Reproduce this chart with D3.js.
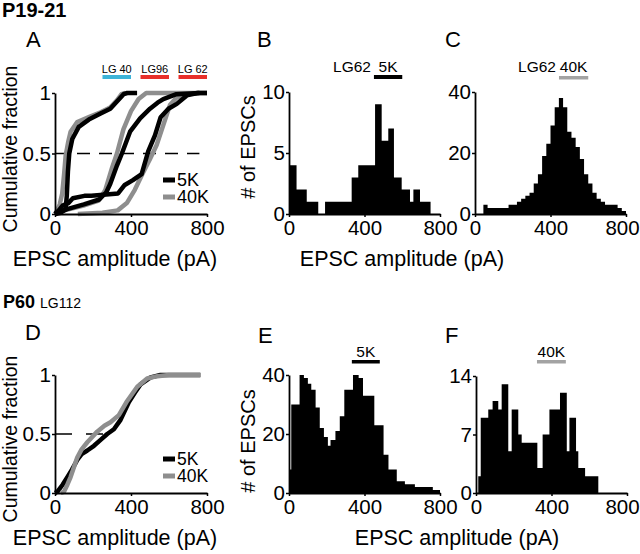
<!DOCTYPE html>
<html><head><meta charset="utf-8">
<script src="https://cdn.jsdelivr.net/npm/d3@7"></script>
<style>
body{margin:0;background:#fff}
svg text{font-family:"Liberation Sans",Arial,sans-serif;fill:#000}
</style>
</head><body>
<svg id="c" width="640" height="554"></svg>
<script>
// ---------- DATA ----------
const xTicks = [0, 400, 800];
const cumTicks = [0, 0.5, 1];
const cumTickLabels = ["0", "0.5", "1"];
const bTicks = [0, 5, 10];
const cTicks = [0, 20, 40];
const eTicks = [0, 20, 40];
const fTicks = [0, 7, 14];
const seriesNames = ["5K", "40K"];
const lgNames = ["LG 40", "LG96", "LG 62"];
const lgRanges = [[250, 400], [450, 600], [650, 800]];
const lgColors = ["#3db4d8", "#e8302a", "#e8302a"];

// Panel A cumulative curves [amplitude pA, fraction]
const aLG40_5K = [[0,0],[30,0.01],[56,0.04],[62,0.15],[68,0.35],[75,0.5],[91,0.62],[125,0.72],[178,0.78],[240,0.83],[291,0.87],[326,0.93],[361,0.99],[380,1],[432,1]];
const aLG40_40K = [[0,0],[12,0.03],[25,0.08],[38,0.17],[48,0.33],[56,0.48],[70,0.6],[82,0.68],[117,0.76],[178,0.8],[240,0.84],[290,0.88],[326,0.94],[350,0.99],[370,1]];
const aLG96_5K = [[0,0],[64,0.04],[152,0.08],[233,0.12],[270,0.18],[291,0.25],[326,0.4],[352,0.5],[395,0.68],[448,0.79],[500,0.87],[540,0.92],[570,0.95],[639,0.99],[760,1]];
const aLG96_40K = [[0,0],[50,0.03],[150,0.07],[230,0.11],[265,0.2],[300,0.38],[326,0.5],[360,0.7],[400,0.85],[440,0.95],[480,1],[800,1]];
const aLG62_5K = [[0,0],[20,0.03],[40,0.07],[70,0.09],[94,0.13],[155,0.15],[191,0.15],[332,0.17],[367,0.24],[410,0.28],[456,0.33],[491,0.52],[526,0.65],[556,0.8],[597,0.87],[641,0.91],[694,0.98],[750,1],[800,1]];
const aLG62_40K = [[120,0],[250,0.01],[330,0.03],[378,0.09],[420,0.2],[460,0.33],[500,0.455],[535,0.57],[570,0.735],[605,0.9],[639,0.96],[692,0.99],[760,1],[800,1]];

// Panel D cumulative curves
const dLG112_5K = [[0,0],[12,0.01],[40,0.07],[65,0.135],[90,0.2],[117,0.28],[140,0.33],[170,0.36],[205,0.4],[240,0.45],[275,0.5],[310,0.54],[345,0.62],[389,0.77],[420,0.85],[450,0.92],[503,0.98],[555,1],[765,1]];
const dLG112_40K = [[30,0],[47,0.01],[65,0.07],[82,0.135],[100,0.22],[117,0.3],[140,0.37],[170,0.43],[222,0.52],[260,0.57],[292,0.6],[336,0.66],[380,0.78],[433,0.9],[485,0.97],[538,0.99],[600,1],[765,1]];

// Panel B histogram (LG62 5K): bin edges (pA) and counts
const bEdges = [0,40,94,155,191,332,367,456,491,526,556,597,641,659,694,750];
const bCounts = [4,2,1,0,1,3,4,9,6,7,3,2,1,2,1];
// Panel C histogram (LG62 40K): 36 bins of 800/36 pA
const cEdges = d3.range(0, 37).map(i => i * 800 / 36);
const cCounts = [0,0,3,2,2,2,2,2,3,3,4,5,6,7,10,13,19,23,29,35,38,35,27,25,22,18,13,10,7,5,4,3,3,3,2,1];
// Panel E histogram (P60 5K)
const eEdges = [0,12,56,79,100,118,141,163,185,206,220,246,269,293,339,369,392,452,501,527,571,614,667,762,800];
const eCounts = [8,30,40,39,37,35,29,22,19,16,18,21,26,35,40,39,33,23,13,8,4,3,2,1];
// Panel F histogram (P60 40K)
const fEdges = [12,25,65,88,118,136,171,189,224,242,325,353,389,413,445,481,495,530,542,578,618,648];
const fCounts = [2,9,10,11,10,13,5,10,7,6,3,7,10,10,12,5,9,5,3,2,2];

// ---------- DRAWING ----------
const svg = d3.select("#c");
const BLACK = "#000", GRAY = "#8e8e8e", BARGRAY = "#a3a3a3";
const FONT = 20.5;

function makePanel(o) {
  const x = d3.scaleLinear().domain([0, 800]).range([o.x0, o.x1]);
  const y = d3.scaleLinear().domain([0, o.yMax]).range([o.y0, o.y1]);
  const g = svg.append("g");
  const body = g.append("g");
  const xa = g.append("g").attr("transform", `translate(0,${o.y0})`)
    .call(d3.axisBottom(x).tickValues(xTicks).tickSize(3).tickSizeOuter(0).tickPadding(3).tickFormat(d3.format("d")));
  const ya = g.append("g").attr("transform", `translate(${o.x0},0)`)
    .call(d3.axisLeft(y).tickValues(o.yTicks).tickSize(3).tickSizeOuter(0).tickPadding(1)
      .tickFormat((d, i) => o.yLabels ? o.yLabels[i] : d3.format("d")(d)));
  [xa, ya].forEach(a => {
    a.attr("font-family", null).attr("font-size", null);
    a.selectAll("path.domain").attr("stroke", "#000").attr("stroke-width", 1.8);
    a.selectAll(".tick line").attr("stroke", "#000").attr("stroke-width", 1.5);
    a.selectAll(".tick text").style("font-size", FONT + "px");
  });
  if (o.lastShift) xa.selectAll(".tick text").filter(d => d === 800).attr("dx", o.lastShift);
  return {x, y, g: body};
}

function drawHist(p, edges, counts) {
  const pts = counts.map((c, i) => [edges[i], c]);
  pts.push([edges[edges.length - 1], counts[counts.length - 1]]);
  p.g.append("path").datum(pts)
    .attr("d", d3.area().curve(d3.curveStepAfter)
      .x(d => p.x(d[0])).y0(p.y(0)).y1(d => p.y(d[1])))
    .attr("fill", BLACK);
}

function drawCurve(p, pts, color) {
  p.g.append("path").datum(pts)
    .attr("d", d3.line().x(d => p.x(d[0])).y(d => p.y(d[1])))
    .attr("fill", "none").attr("stroke", color).attr("stroke-width", 4.5)
    .attr("stroke-linejoin", "round").attr("stroke-linecap", "butt");
}

function dashed(p, xEnd, dash) {
  p.g.append("line").attr("x1", p.x(0)).attr("x2", p.x(xEnd))
    .attr("y1", p.y(0.5)).attr("y2", p.y(0.5))
    .attr("stroke", "#000").attr("stroke-width", 1.6).attr("stroke-dasharray", dash);
}

function legend(px, py, gap, fs) {
  seriesNames.forEach((n, i) => {
    svg.append("line").attr("x1", px).attr("x2", px + 12).attr("y1", py + i * gap).attr("y2", py + i * gap)
      .attr("stroke", i === 0 ? BLACK : GRAY).attr("stroke-width", 5);
    svg.append("text").attr("x", px + 14).attr("y", py + i * gap + fs * 0.36).style("font-size", fs + "px").text(n);
  });
}

function text(x, y, s, fs, opts = {}) {
  const t = svg.append("text").attr("x", x).attr("y", y).style("font-size", fs + "px").text(s);
  if (opts.anchor) t.attr("text-anchor", opts.anchor);
  if (opts.bold) t.style("font-weight", "bold");
  if (opts.rotate) t.attr("transform", `rotate(-90,${x},${y})`);
  return t;
}

// Panel A
const pA = makePanel({x0: 55, x1: 207, y0: 214, y1: 93, yMax: 1, yTicks: cumTicks, yLabels: cumTickLabels});
dashed(pA, 760, "13,9");
[aLG40_40K, aLG96_40K, aLG62_40K].forEach(s => drawCurve(pA, s, GRAY));
[aLG40_5K, aLG96_5K, aLG62_5K].forEach(s => drawCurve(pA, s, BLACK));
legend(163, 180, 17, 18);
lgNames.forEach((n, i) => {
  const xa = pA.x(lgRanges[i][0]), xb = pA.x(lgRanges[i][1]);
  svg.append("rect").attr("x", xa).attr("y", 75).attr("width", xb - xa).attr("height", 4).attr("fill", lgColors[i]);
  text((xa + xb) / 2, 73, n, 11, {anchor: "middle"});
});

// Panel B
const pB = makePanel({x0: 289, x1: 440, y0: 214, y1: 92, yMax: 10, yTicks: bTicks});
drawHist(pB, bEdges, bCounts);
{
  const xa = pB.x(450), xb = pB.x(600);
  svg.append("rect").attr("x", xa).attr("y", 75).attr("width", xb - xa).attr("height", 4).attr("fill", BLACK);
  text((xa + xb) / 2, 72, "5K", 15.5, {anchor: "middle"});
  text(xa - 3, 72, "LG62", 15.5, {anchor: "end"});
}

// Panel C
const pC = makePanel({x0: 475, x1: 626, y0: 214, y1: 92, yMax: 40, yTicks: cTicks, lastShift: -4});
drawHist(pC, cEdges, cCounts);
{
  const xa = pC.x(445), xb = pC.x(600);
  svg.append("rect").attr("x", xa).attr("y", 76).attr("width", xb - xa).attr("height", 3.5).attr("fill", BARGRAY);
  text((xa + xb) / 2, 72, "40K", 15.5, {anchor: "middle"});
  text(xa - 3, 72, "LG62", 15.5, {anchor: "end"});
}

// Panel D
const pD = makePanel({x0: 55, x1: 207, y0: 493, y1: 375, yMax: 1, yTicks: cumTicks, yLabels: cumTickLabels});
dashed(pD, 260, "17,14");
drawCurve(pD, dLG112_5K, BLACK);
drawCurve(pD, dLG112_40K, GRAY);
legend(163, 459, 17, 17.5);

// Panel E
const pE = makePanel({x0: 289, x1: 440, y0: 493, y1: 375, yMax: 40, yTicks: eTicks});
drawHist(pE, eEdges, eCounts);
{
  const xa = pE.x(333), xb = pE.x(481);
  svg.append("rect").attr("x", xa).attr("y", 360).attr("width", xb - xa).attr("height", 3.5).attr("fill", BLACK);
  text((xa + xb) / 2, 357, "5K", 15.5, {anchor: "middle"});
}

// Panel F
const pF = makePanel({x0: 476, x1: 627, y0: 493, y1: 376, yMax: 14, yTicks: fTicks, lastShift: -5});
drawHist(pF, fEdges, fCounts);
{
  const xa = pF.x(323), xb = pF.x(476);
  svg.append("rect").attr("x", xa).attr("y", 360).attr("width", xb - xa).attr("height", 3.5).attr("fill", BARGRAY);
  text((xa + xb) / 2, 357, "40K", 15.5, {anchor: "middle"});
}

// Titles and labels
text(2, 17, "P19-21", 20, {bold: true});
const p60 = svg.append("text").attr("x", 3).attr("y", 308);
p60.append("tspan").style("font-size", "18px").style("font-weight", "bold").text("P60");
p60.append("tspan").style("font-size", "14px").attr("dx", 5).text("LG112");

text(26, 47, "A", 22);
text(257, 47, "B", 22);
text(445, 47, "C", 22);
text(25, 340, "D", 22);
text(258, 343, "E", 22);
text(445, 343, "F", 22);

text(17, 149, "Cumulative fraction", 19.5, {anchor: "middle", rotate: true});
text(17, 439, "Cumulative fraction", 19.5, {anchor: "middle", rotate: true});
text(255, 147, "# of EPSCs", 20, {anchor: "middle", rotate: true});
text(255, 441, "# of EPSCs", 20, {anchor: "middle", rotate: true});

text(115, 266, "EPSC amplitude (pA)", 21.5, {anchor: "middle"});
text(402, 266, "EPSC amplitude (pA)", 21.5, {anchor: "middle"});
text(115, 545, "EPSC amplitude (pA)", 21.5, {anchor: "middle"});
text(457, 545, "EPSC amplitude (pA)", 21.5, {anchor: "middle"});
</script>
</body></html>
